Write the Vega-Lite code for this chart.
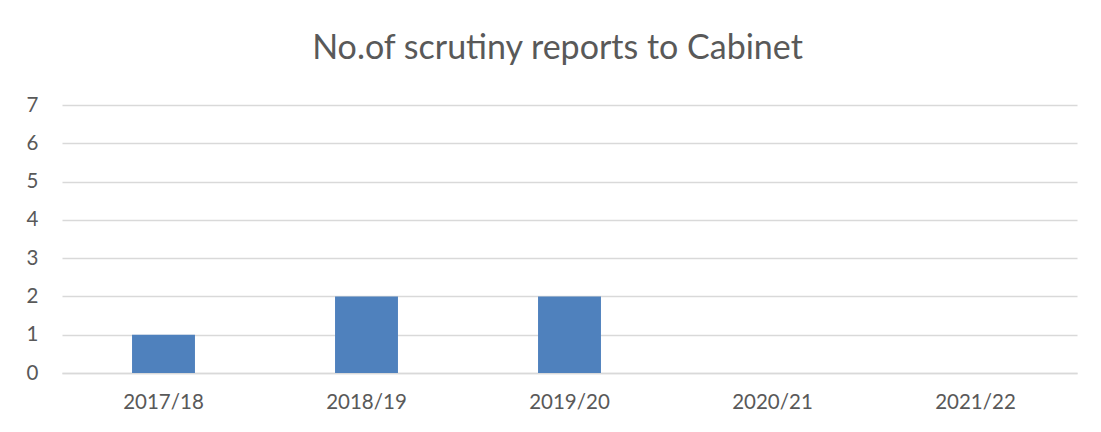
{
  "$schema": "https://vega.github.io/schema/vega-lite/v6.json",
  "width": 1015,
  "height": 268,
  "autosize": {"type": "none"},
  "padding": {"left": 62, "top": 105, "right": 24, "bottom": 59},
  "background": "white",
  "title": {
    "text": "No.of scrutiny reports to Cabinet",
    "font": "Lato",
    "fontSize": 34,
    "fontWeight": "normal",
    "color": "#595959",
    "anchor": "middle",
    "dx": -12,
    "offset": 29
  },
  "data": {
    "values": [
      {"year": "2017/18", "reports": 1},
      {"year": "2018/19", "reports": 2},
      {"year": "2019/20", "reports": 2},
      {"year": "2020/21", "reports": 0},
      {"year": "2021/22", "reports": 0}
    ]
  },
  "mark": {"type": "bar", "color": "#4f81bd"},
  "encoding": {
    "x": {
      "field": "year",
      "type": "nominal",
      "sort": null,
      "title": null,
      "scale": {"paddingInner": 0.69, "paddingOuter": 0.345},
      "axis": {
        "labelAngle": 0,
        "labelFont": "Lato",
        "labelFontSize": 20.5,
        "labelColor": "#595959",
        "labelPadding": 19,
        "ticks": false,
        "domainColor": "#d9d9d9",
        "domainWidth": 1.5
      }
    },
    "y": {
      "field": "reports",
      "type": "quantitative",
      "title": null,
      "scale": {"domain": [0, 7], "nice": false},
      "axis": {
        "values": [0, 1, 2, 3, 4, 5, 6, 7],
        "labelFont": "Lato",
        "labelFontSize": 20.5,
        "labelColor": "#595959",
        "labelPadding": 24,
        "ticks": false,
        "domain": false,
        "gridColor": "#d9d9d9",
        "gridWidth": 1.5
      }
    }
  },
  "config": {"view": {"stroke": null}}
}
